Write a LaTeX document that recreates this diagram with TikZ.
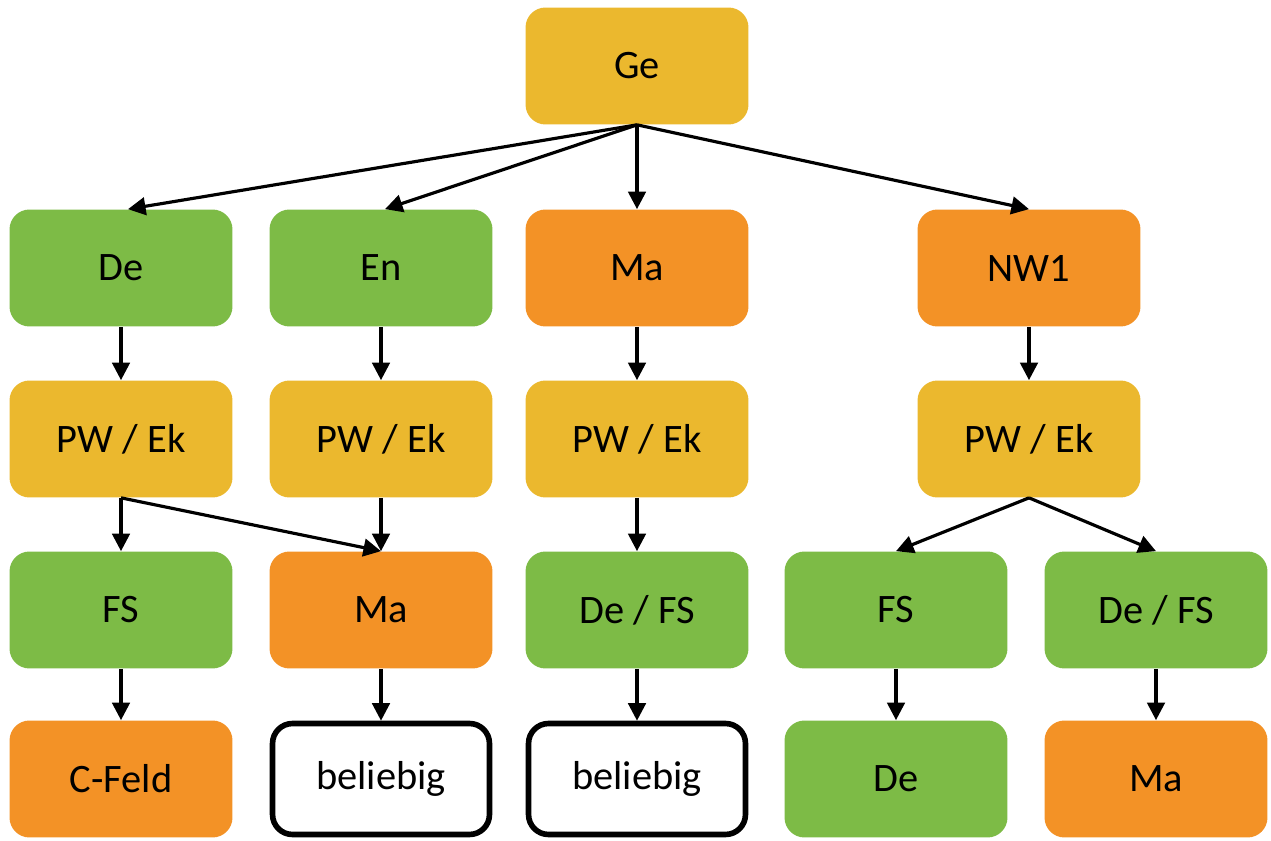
\documentclass[tikz,border=0pt]{standalone}
\usepackage{fontspec}
\setmainfont{Carlito}
\usetikzlibrary{arrows.meta}

\definecolor{boxgreen}{HTML}{7DBB46}
\definecolor{boxorange}{HTML}{F39226}
\definecolor{boxyellow}{HTML}{EBB82E}

\tikzset{
    fach/.style={rounded corners=0.4cm, minimum width=4.46cm, minimum height=2.34cm,
        font=\fontsize{23}{27}\selectfont, inner sep=0pt},
    gruen/.style={fach, fill=boxgreen},
    orange/.style={fach, fill=boxorange},
    gelb/.style={fach, fill=boxyellow},
    frei/.style={fach, draw=black, line width=3.2pt, fill=white,
        minimum width=4.34cm, minimum height=2.22cm},
    pfeil/.style={-{Triangle[length=10pt,width=10pt]}, line width=1.8pt}
}

\begin{document}
\begin{tikzpicture}[x=0.02cm, y=-0.02cm]
    \useasboundingbox (0,0) rectangle (1271,841);

    % Top
    \node[gelb] (ge) at (637,66) {Ge};

    % Row 1
    \node[gruen]  (de1) at (121,268)  {De};
    \node[gruen]  (en1) at (381,268)  {En};
    \node[orange] (ma1) at (637,268)  {Ma};
    \node[orange] (nw1) at (1029,268) {NW1};

    % Row 2
    \node[gelb] (pw1) at (121,439)  {PW / Ek};
    \node[gelb] (pw2) at (381,439)  {PW / Ek};
    \node[gelb] (pw3) at (637,439)  {PW / Ek};
    \node[gelb] (pw4) at (1029,439) {PW / Ek};

    % Row 3
    \node[gruen]  (fs1)   at (121,610)  {FS};
    \node[orange] (ma2)   at (381,610)  {Ma};
    \node[gruen]  (defs3) at (637,610)  {De / FS};
    \node[gruen]  (fs4)   at (896,610)  {FS};
    \node[gruen]  (defs4) at (1156,610) {De / FS};

    % Row 4
    \node[orange] (cf1) at (121,779)  {C-Feld};
    \node[frei]   (be2) at (381,779)  {beliebig};
    \node[frei]   (be3) at (637,779)  {beliebig};
    \node[gruen]  (de4) at (896,779)  {De};
    \node[orange] (ma4) at (1156,779) {Ma};

    % Arrows from Ge
    \draw[pfeil] (ge.south) -- ([xshift=0.14cm]de1.north);
    \draw[pfeil] (ge.south) -- ([xshift=0.08cm]en1.north);
    \draw[pfeil] (ge.south) -- (ma1.north);
    \draw[pfeil] (ge.south) -- (nw1.north);

    % Columns
    \draw[pfeil] (de1) -- (pw1);
    \draw[pfeil] (en1) -- (pw2);
    \draw[pfeil] (ma1) -- (pw3);
    \draw[pfeil] (nw1) -- (pw4);

    \draw[pfeil] (pw1.south) -- (fs1.north);
    \draw[pfeil] (pw1.south) -- (ma2.north);
    \draw[pfeil] (pw2) -- (ma2);
    \draw[pfeil] (pw3) -- (defs3);
    \draw[pfeil] (pw4.south) -- (fs4.north);
    \draw[pfeil] (pw4.south) -- (defs4.north);

    \draw[pfeil] (fs1) -- (cf1);
    \draw[pfeil] (ma2) -- (be2);
    \draw[pfeil] (defs3) -- (be3);
    \draw[pfeil] (fs4) -- (de4);
    \draw[pfeil] (defs4) -- (ma4);
\end{tikzpicture}
\end{document}
